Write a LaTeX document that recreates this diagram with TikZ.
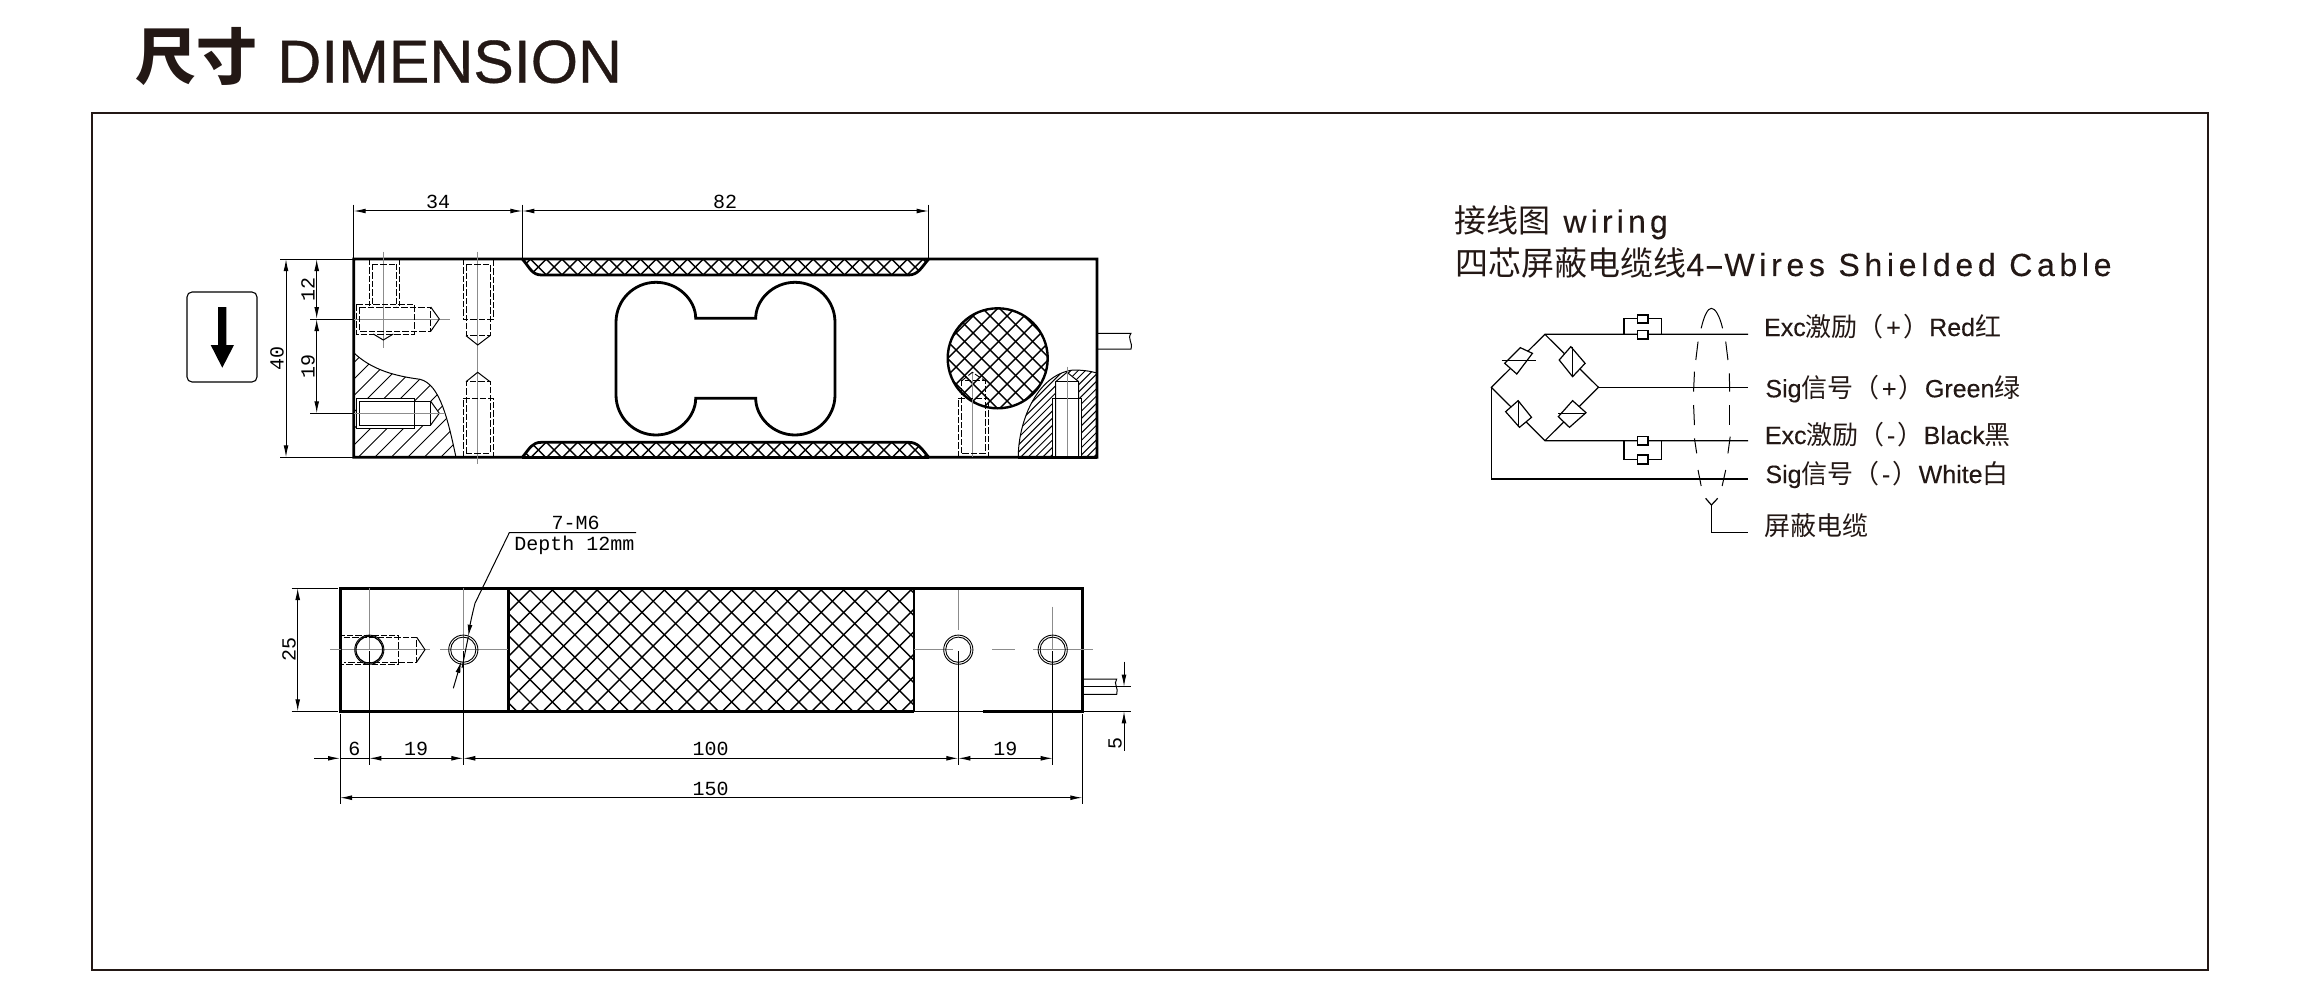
\documentclass[tikz,border=0pt]{standalone}
\usepackage{fontspec}
\setmainfont{Liberation Sans}
\newfontfamily\cjk{Noto Sans CJK SC}
\newfontfamily\cad{Liberation Mono}
\newfontfamily\heavy[FakeBold=0.5]{Liberation Sans}
\newfontfamily\spaced[LetterSpace=13,FakeBold=0.2]{Liberation Sans}
\newfontfamily\spacedb[LetterSpace=14.6,FakeBold=0.2]{Liberation Sans}
\newfontfamily\lab[FakeBold=0.2]{Liberation Sans}
\usetikzlibrary{arrows.meta}
\definecolor{ink}{HTML}{231815}
\tikzset{
  thickline/.style={line width=1.4pt,black,line join=miter},
  heavyline/.style={line width=1.5pt,black,line join=miter},
  thinline/.style={line width=.5pt,black},
  hatchline/.style={line width=.5pt,black},
  crossline/.style={line width=.7pt,black},
  dashline/.style={line width=.45pt,black,dash pattern=on 3.2pt off 1pt},
  centerline/.style={line width=.35pt,black!45},
  dimline/.style={line width=.5pt,black,{Latex[length=6pt,width=2.4pt]}-{Latex[length=6pt,width=2.4pt]}},
  onetip/.style={line width=.5pt,black,-{Latex[length=6pt,width=2.4pt]}},
  extline/.style={line width=.5pt,black},
  cadtext/.style={font=\cad\fontsize{10}{12}\selectfont,inner sep=0pt,text=black},
  wire/.style={line width=.6pt,black},
  shield/.style={line width=.5pt,black},
  wlabel/.style={anchor=base west,inner sep=0pt,text=ink},
}
\newcommand{\hatchdown}[6]{% style x1 y1 x2 y2 s : family /
  \pgfmathsetmacro{\hgt}{#5-#3}%
  \pgfmathsetmacro{\kfirst}{#2}%
  \pgfmathsetmacro{\ksecond}{#2+#6}%
  \pgfmathsetmacro{\klast}{#4+\hgt}%
  \foreach \k in {\kfirst,\ksecond,...,\klast} {\draw[#1] (\k,#3) -- ({\k-\hgt},#5);}%
}
\newcommand{\hatchback}[6]{% style x1 y1 x2 y2 s : family \
  \pgfmathsetmacro{\hgt}{#5-#3}%
  \pgfmathsetmacro{\kfirst}{#2-\hgt}%
  \pgfmathsetmacro{\ksecond}{#2-\hgt+#6}%
  \pgfmathsetmacro{\klast}{#4}%
  \foreach \k in {\kfirst,\ksecond,...,\klast} {\draw[#1] (\k,#3) -- ({\k+\hgt},#5);}%
}
\newcommand{\cross}[5]{\hatchdown{crossline}{#1}{#2}{#3}{#4}{#5}\hatchback{crossline}{#1}{#2}{#3}{#4}{#5}}
\newcommand{\latn}[1]{{\lab\fontsize{12.5}{14}\selectfont #1}}
\newcommand{\han}[1]{{\cjk\fontsize{13}{15}\selectfont #1}}
\newcommand{\pmk}[1]{\kern1.2pt\latn{#1}\kern1.2pt}
\begin{document}
\begin{tikzpicture}[x=.5pt,y=-.5pt]
\useasboundingbox (0,0) rectangle (2300,1000);
\fill[white] (0,0) rectangle (2300,1000);
% title and frame
\node[anchor=base west,inner sep=0pt,text=ink] (ttlcn) at (135,80) {\cjk\bfseries\fontsize{30.5}{32}\selectfont 尺寸};
\node[anchor=base west,inner sep=0pt,text=ink] (ttlen) at (277,82.7) {\heavy\fontsize{30.4}{32}\selectfont DIMENSION};
\draw[line width=1pt,ink] (92,113.5) rectangle (2207.5,969.5);

% ---------- top view ----------
% hatch strips
\begin{scope}
 \clip (522.3,259) .. controls (530,268) and (532,275) .. (541.7,275) -- (908.3,275) .. controls (918,275) and (921,268) .. (928.7,259) -- cycle;
 \cross{515}{259}{935}{275}{15.7}
\end{scope}
\begin{scope}
 \clip (522.3,457.3) .. controls (530,448) and (532,442.3) .. (541.7,442.3) -- (908.3,442.3) .. controls (918,442.3) and (921,448) .. (928.7,457.3) -- cycle;
 \cross{515}{442}{935}{458}{15.7}
\end{scope}
% left section hatch
\begin{scope}
 \clip (353.7,352.7) .. controls (372,370) and (395,376) .. (420,379.3) .. controls (440,384) and (448,420) .. (456,457.3) -- (353.7,457.3) -- cycle;
 \hatchdown{hatchline}{350}{350}{460}{460}{16.5}
\end{scope}
\draw[thinline] (353.7,352.7) .. controls (372,370) and (395,376) .. (420,379.3) .. controls (440,384) and (448,420) .. (456,457.3);
% right section hatch
\begin{scope}
 \clip (1018.3,457.3) .. controls (1018,425) and (1035,375) .. (1073,370) .. controls (1082,370) and (1090,371) .. (1097,373) -- (1097,457.3) -- cycle;
 \hatchdown{hatchline}{1015}{368}{1100}{458}{7.3}
\end{scope}
\draw[thinline] (1018.3,457.3) .. controls (1018,425) and (1035,375) .. (1073,370) .. controls (1082,370) and (1090,371) .. (1097,373);
% cross hatched circle
\begin{scope}
 \clip (997.7,358.3) circle[radius=25pt];
 \cross{947}{308}{1048}{409}{17}
\end{scope}
\draw[line width=1.2pt,black] (997.7,358.3) circle[radius=25pt];
% outline
\draw[thickline] (522.3,259) -- (353.7,259) -- (353.7,457.3) -- (522.3,457.3)
   .. controls (530,448) and (532,442.3) .. (541.7,442.3) -- (908.3,442.3) .. controls (918,442.3) and (921,448) .. (928.7,457.3)
   -- (1097,457.3) -- (1097,259) -- (928.7,259)
   .. controls (921,268) and (918,275) .. (908.3,275) -- (541.7,275) .. controls (532,275) and (530,268) .. (522.3,259) -- (928.7,259);
\draw[thickline] (522.3,457.3) -- (928.7,457.3);
% dog-bone slot
\draw[thickline] (616,322.3) .. controls (616,300) and (634,282.3) .. (656,282.3) .. controls (678,282.3) and (695.7,300) .. (695.7,318.3)
   -- (755.7,318.3) .. controls (755.7,300) and (773,282.3) .. (795,282.3) .. controls (817,282.3) and (835,300) .. (835,322.3)
   -- (835,395) .. controls (835,417) and (817,435) .. (795,435) .. controls (773,435) and (755.7,417) .. (755.7,398.3)
   -- (695.7,398.3) .. controls (695.7,417) and (678,435) .. (656,435) .. controls (634,435) and (616,417) .. (616,395) -- cycle;
% cable right
\draw[thinline] (1097,333.3) -- (1131,333.3) .. controls (1127,339) and (1133,342) .. (1131,349) -- (1097,349);
% holes upper left
\draw[centerline] (383.3,251.7) -- (383.3,348);
\draw[centerline] (354,319) -- (450,319);
\draw[dashline] (369.3,259) -- (369.3,306);
\draw[dashline] (399.3,259) -- (399.3,306);
\draw[dashline] (372,264) -- (372,306) (396.7,264) -- (396.7,306) (372,264) -- (396.7,264);
\draw[dashline] (356.7,304.3) rectangle (414,334);
\draw[dashline] (359.3,307) -- (430.7,307) -- (430.7,331.3) -- (359.3,331.3) -- cycle;
\draw[thinline] (430.7,307) -- (439.3,319) -- (430.7,331.3);
\draw[thinline] (373.3,334) -- (383.3,340) -- (393.3,334);
% holes upper middle
\draw[centerline] (477.7,251.7) -- (477.7,463.7);
\draw[dashline] (463,259) -- (463,319) -- (493,319) -- (493,259);
\draw[dashline] (466,264) -- (490,264) -- (490,335.7) -- (466,335.7) -- cycle;
\draw[thinline] (466,335.7) -- (477.7,345) -- (490,335.7);
\draw[dashline] (463,457) -- (463,398.3) -- (493,398.3) -- (493,457);
\draw[dashline] (466,453) -- (490,453) -- (490,381.7) -- (466,381.7) -- cycle;
\draw[thinline] (466,381.7) -- (477.7,372.3) -- (490,381.7);
% left lower hole, white inside hatch
\fill[white] (356.7,398.3) rectangle (414,428.3);
\fill[white] (414,401.3) -- (430.7,401.3) -- (439.3,413.3) -- (430.7,425) -- (414,425) -- cycle;
\draw[thinline] (356.7,398.3) rectangle (414,428.3);
\draw[thinline] (359.3,401.3) -- (430.7,401.3) -- (430.7,425) -- (359.3,425) -- cycle;
\draw[thinline] (430.7,401.3) -- (439.3,413.3) -- (430.7,425);
\draw[centerline] (354,413.3) -- (445,413.3);
% right dashed hole
\draw[centerline] (972.3,372) -- (972.3,457);
\draw[dashline] (958.3,457) -- (958.3,398.3) -- (988.3,398.3) -- (988.3,457);
\draw[dashline] (961.7,453.3) -- (961.7,380.7) -- (985,380.7) -- (985,453.3) -- cycle;
\draw[dashline] (961.7,380.7) -- (972.3,372.3) -- (985,380.7);
% right solid hole
\fill[white] (1052.7,398.3) rectangle (1081.7,457);
\fill[white] (1055.7,398.3) -- (1055.7,381.7) -- (1067,372.3) -- (1078.7,381.7) -- (1078.7,398.3) -- cycle;
\draw[thinline] (1052.7,457) -- (1052.7,398.3) -- (1081.7,398.3) -- (1081.7,457);
\draw[thinline] (1055.7,457) -- (1055.7,381.7) -- (1067,372.3) -- (1078.7,381.7) -- (1078.7,457);
\draw[thinline] (1055.7,381.7) -- (1078.7,381.7);
\draw[centerline] (1067,366.7) -- (1067,457);
\draw[thickline] (1018.3,457.3) -- (1097,457.3);
% top view dimensions
\draw[extline] (353.7,204.7) -- (353.7,259);
\draw[extline] (522.3,204.7) -- (522.3,259);
\draw[extline] (928.7,204.7) -- (928.7,259);
\draw[dimline] (353.7,211) -- (522.3,211);
\draw[dimline] (522.3,211) -- (928.7,211);
\node[cadtext] (d34) at (438,202) {34};
\node[cadtext] (d82) at (725,202) {82};
\draw[extline] (280,259) -- (354,259);
\draw[extline] (280,457.3) -- (354,457.3);
\draw[extline] (310,319) -- (354,319);
\draw[extline] (310,413.3) -- (354,413.3);
\draw[dimline] (286,259) -- (286,457.3);
\draw[dimline] (316.7,259) -- (316.7,319);
\draw[dimline] (316.7,319) -- (316.7,413.3);
\node[cadtext,rotate=90] (d40) at (277,358) {40};
\node[cadtext,rotate=90] (d12) at (308,289) {12};
\node[cadtext,rotate=90] (d19a) at (308,366) {19};
% load direction box
\draw[line width=.55pt,black,rounded corners=2.5pt] (187,292) rectangle (257,382);
\fill[black] (218,307) -- (226.3,307) -- (226.3,345) -- (234,345) -- (222.3,367.7) -- (210.7,345) -- (218,345) -- cycle;

% ---------- bottom view ----------
\begin{scope}
 \clip (508,588) rectangle (914.3,711.3);
 \hatchdown{crossline}{487.2}{588}{914.3}{711.3}{22.4}
 \hatchback{crossline}{494.5}{588}{914.3}{711.3}{22.4}
\end{scope}
\draw[heavyline] (983,711.3) -- (1082.3,711.3) -- (1082.3,588) -- (340,588) -- (340,711.3) -- (914.3,711.3);
\draw[thinline] (914.3,711.3) -- (983,711.3);
\draw[heavyline] (508,588) -- (508,711.3);
\draw[line width=1.1pt,black] (914.3,588) -- (914.3,711.3);
% centre lines
\draw[centerline] (330,649.7) -- (430,649.7);
\draw[centerline] (369.3,588) -- (369.3,650);
\draw[centerline] (463.3,588) -- (463.3,650);
\draw[centerline] (440,649.7) -- (508,649.7);
\draw[centerline] (914.3,649.7) -- (953,649.7);
\draw[centerline] (992,649.7) -- (1015,649.7);
\draw[centerline] (1033,649.7) -- (1092.7,649.7);
\draw[centerline] (958.3,590) -- (958.3,630);
\draw[centerline] (1052.7,606.7) -- (1052.7,650);
% side profile hole
\draw[dashline] (341.7,635) rectangle (398.3,664);
\draw[dashline] (344,637.3) -- (416.7,637.3) -- (416.7,662) -- (344,662);
\draw[thinline] (416.7,637.3) -- (425,649.7) -- (416.7,662);
% circles
\draw[line width=.45pt] (369.3,649.7) circle[radius=7.3pt];
\draw[line width=.65pt] (369.3,649.7) circle[radius=6.7pt];
\foreach \hx in {463.3,958.3,1052.7} {
  \draw[line width=.45pt] (\hx,649.7) circle[radius=7.3pt];
  \draw[line width=.45pt] (\hx,649.7) circle[radius=6.3pt];
}
% leader
\draw[thinline] (636,532.7) -- (509.3,532.7) -- (475,603.3);
\draw[onetip] (475,603.3) .. controls (472,615) and (470,625) .. (468.3,636.7);
\draw[thinline] (468.3,636.7) -- (462,668);
\draw[onetip] (453.3,688.3) -- (461.3,661);
\node[cadtext] (dm6) at (575.7,523) {7-M6};
\node[cadtext] (ddp) at (574.3,545) {Depth 12mm};
% cable
\draw[thinline] (1082.3,679) -- (1116.7,679) .. controls (1113,684) and (1119,688) .. (1116.7,694.3) -- (1082.3,694.3);
% bottom dims
\draw[extline] (291.7,588) -- (338,588);
\draw[extline] (291.7,711.3) -- (338,711.3);
\draw[dimline] (297.7,588) -- (297.7,711.3);
\node[cadtext,rotate=90] (d25) at (289,649.7) {25};
\draw[extline] (340,714) -- (340,804.3);
\draw[extline] (1082.3,714) -- (1082.3,804.3);
\foreach \hx in {369.3,463.3,958.3,1052.7} {\draw[line width=.7pt,black] (\hx,651) -- (\hx,765);}
\draw[onetip] (314,758.3) -- (340,758.3);
\draw[dimline] (369.3,758.3) -- (463.3,758.3);
\draw[dimline] (463.3,758.3) -- (958.3,758.3);
\draw[dimline] (958.3,758.3) -- (1052.7,758.3);
\draw[extline] (340,758.3) -- (369.3,758.3);
\draw[dimline] (340,797.7) -- (1082.3,797.7);
\node[cadtext] (d6) at (354.3,749.3) {6};
\node[cadtext] (d19b) at (416,749.3) {19};
\node[cadtext] (d100) at (710.7,749.3) {100};
\node[cadtext] (d19c) at (1005.3,749.3) {19};
\node[cadtext] (d150) at (710.7,788.7) {150};
\draw[extline] (1082.3,686.7) -- (1130.7,686.7);
\draw[extline] (1082.3,711.3) -- (1130.7,711.3);
\draw[onetip] (1124,661.7) -- (1124,686.7);
\draw[onetip] (1124,750.7) -- (1124,711.3);
\node[cadtext,rotate=90] (d5) at (1115,743.3) {5};

% ---------- wiring ----------
\node[wlabel] (wt1) at (1454,232.7) {{\cjk\fontsize{16}{18}\selectfont 接线图}\spaced\fontsize{16}{18}\selectfont\ wiring};
\node[wlabel] (wt2) at (1455,276) {{\cjk\fontsize{16.5}{18}\selectfont 四芯屏蔽电缆线}\spacedb\fontsize{16}{18}\selectfont 4\scalebox{1.9}[1]{-}Wires Shielded Cable};
\node[wlabel] (w1) at (1763.7,336) {\latn{Exc}\han{激励（}\pmk{+}\han{）}\latn{Red}\han{红}};
\node[wlabel] (w2) at (1765,397.3) {\latn{Sig}\han{信号（}\pmk{+}\han{）}\latn{Green}\han{绿}};
\node[wlabel] (w3) at (1764.5,444) {\latn{Exc}\han{激励（}\pmk{-}\han{）}\latn{Black}\han{黑}};
\node[wlabel] (w4) at (1765,483) {\latn{Sig}\han{信号（}\pmk{-}\han{）}\latn{White}\han{白}};
\node[wlabel] (w5) at (1763.7,535) {\han{屏蔽电缆}};
\begin{scope}[shift={(1440,190)},x=.2232pt,y=-.16667pt]
 % bridge
 \draw[wire] (690,433) -- (235,433) -- (115,592) -- (235,752) -- (690,752);
 \draw[wire] (235,433) -- (355,592) -- (235,752);
 \draw[wire] (355,592) -- (690,592);
 \draw[wire] (115,592) -- (115,867) -- (690,867);
 % gauges
 \draw[wire,fill=white] (180,473) -- (207,490) -- (172,552) -- (145,520) -- cycle;
 \draw[wire] (138,512) -- (215,512);
 \draw[wire,fill=white] (293,470) -- (325,520) -- (297,560) -- (267,510) -- cycle;
 \draw[wire] (296,470) -- (296,558);
 \draw[wire,fill=white] (175,632) -- (205,682) -- (178,712) -- (147,665) -- cycle;
 \draw[wire] (176,632) -- (176,712);
 \draw[wire,fill=white] (297,632) -- (327,668) -- (290,712) -- (265,680) -- cycle;
 \draw[wire] (265,670) -- (327,670);
 % compensation resistors
 \draw[wire] (412,433) -- (412,385) -- (497,385) -- (497,433);
 \draw[wire,fill=white] (442,375) rectangle (466,399);
 \draw[wire,fill=white] (442,421) rectangle (466,447);
 \draw[wire] (412,752) -- (412,808) -- (497,808) -- (497,752);
 \draw[wire,fill=white] (442,740) rectangle (466,765);
 \draw[wire,fill=white] (442,795) rectangle (466,822);
 % shield
 \draw[shield] (585,415) .. controls (592,375) and (600,355) .. (608,355) .. controls (616,355) and (626,375) .. (633,415);
 \draw[shield] (578,455) -- (573,510);
 \draw[shield] (570,545) -- (568,605);
 \draw[shield] (568,645) -- (570,705);
 \draw[shield] (570,745) -- (575,790);
 \draw[shield] (578,840) -- (585,888);
 \draw[shield] (640,455) -- (645,510);
 \draw[shield] (648,550) -- (649,605);
 \draw[shield] (649,645) -- (649,705);
 \draw[shield] (650,740) -- (645,790);
 \draw[shield] (640,840) -- (632,888);
 % ground
 \draw[wire] (595,925) -- (608,945) -- (622,925);
 \draw[wire] (608,945) -- (608,1028) -- (690,1028);
\end{scope}
\end{tikzpicture}
\end{document}
